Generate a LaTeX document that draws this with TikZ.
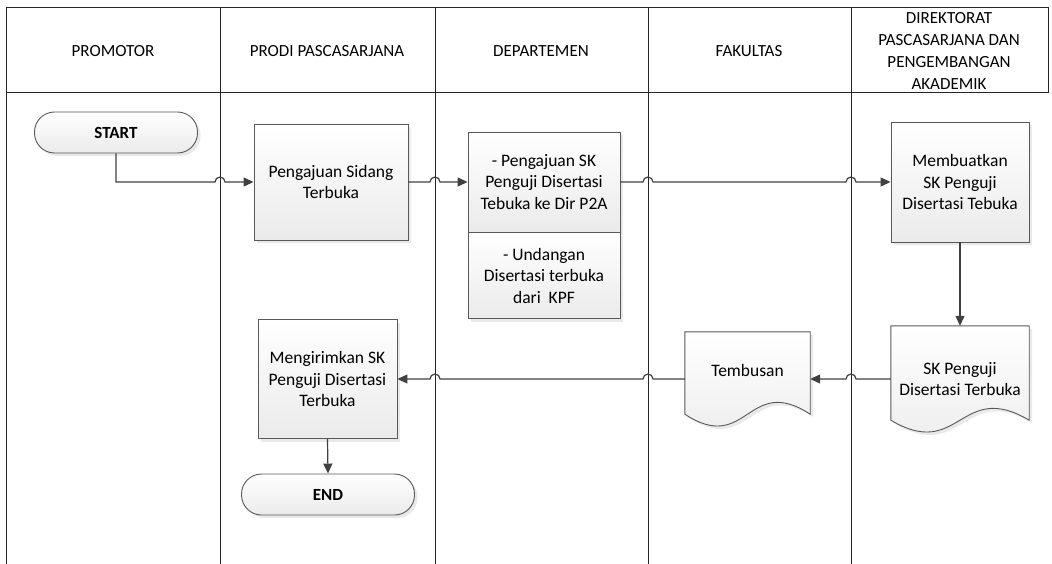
\documentclass[tikz,border=0pt]{standalone}
\usepackage{fontspec}
\setmainfont{Carlito}
\usetikzlibrary{arrows.meta,shadows,positioning,backgrounds}

\begin{document}
\begin{tikzpicture}[x=1pt,y=-1pt,
    lane/.style={draw=black!85,line width=1pt},
    head/.style={align=center,font=\fontsize{17}{22}\selectfont},
    fillbox/.style={draw=black!65,line width=0.9pt,top color=white,bottom color=gray!16,
        drop shadow={shadow xshift=3pt,shadow yshift=-3pt,opacity=0.35,fill=gray!50}},
    box/.style={fillbox,rectangle,align=center,inner sep=2pt,font=\fontsize{17.5}{21.5}\selectfont},
    term/.style={box,rounded corners=20pt,font=\bfseries\fontsize{17}{20}\selectfont},
    doc/.style={rectangle,align=center,inner sep=2pt,font=\fontsize{17.5}{21.5}\selectfont},
    flow/.style={draw=black!75,line width=1.2pt,-{Triangle[length=10pt,width=9pt]}}]
    \useasboundingbox (0,0) rectangle (1052,564);

    % lanes
    \draw[lane] (6,8) rectangle (1048,93);
    \foreach \x [count=\i] in {6,220,435,648,851}{
        \draw[lane] (\x,8) -- (\x,564);
        \coordinate (l\i) at (\x,93);
    }
    \foreach \x/\t in {113/PROMOTOR,327/PRODI PASCASARJANA,541/DEPARTEMEN,749/FAKULTAS,
        949/{DIREKTORAT\\PASCASARJANA DAN\\PENGEMBANGAN\\AKADEMIK}}
        \node[head] (h\x) at (\x,51) {\t};

    % steps
    \node[term,minimum width=163pt,minimum height=41pt] (start) at (116,132.5) {START};
    \node[box,minimum width=154pt,minimum height=116pt] (sidang) at (331,182) {Pengajuan Sidang\\Terbuka};
    \node[box,minimum width=152pt,minimum height=100pt] (ajuansk) at (544,182) {- Pengajuan SK\\Penguji Disertasi\\Tebuka ke Dir P2A};
    \node[box,minimum width=152pt,minimum height=86pt,below=0pt of ajuansk] (undangan) {- Undangan\\Disertasi terbuka\\dari~ KPF};
    \node[box,minimum width=138pt,minimum height=120pt] (buatsk) at (960,182) {Membuatkan\\SK Penguji\\Disertasi Tebuka};
    \node[doc,minimum width=138pt,minimum height=106pt] (skdoc) at (960,379) {SK Penguji\\Disertasi Terbuka};
    \node[doc,minimum width=125pt,minimum height=94pt,text depth=18pt] (tembusan) at (747.5,379) {Tembusan};
    \node[box,minimum width=139pt,minimum height=119pt] (kirimsk) at (327.5,379) {Mengirimkan SK\\Penguji Disertasi\\Terbuka};
    \node[term,minimum width=173pt,minimum height=41pt] (stop) at (328,494.5) {END};

    \begin{scope}[on background layer]
        \foreach \d in {skdoc,tembusan}
            \path[fillbox] (\d.north west) -- (\d.north east) -- ([yshift=12pt]\d.south east)
                .. controls ([yshift=53pt]\d.south) and ([yshift=-29pt]\d.south) .. ([yshift=12pt]\d.south west) -- cycle;
    \end{scope}

    % flow
    \draw[flow] (start.south) |- ([xshift=-5pt]l2 |- sidang.west) arc[start angle=180,end angle=0,radius=5pt] -- (sidang.west);
    \draw[flow] (sidang.east) -- ([xshift=-5pt]l3 |- sidang.east) arc[start angle=180,end angle=0,radius=5pt] -- (ajuansk.west);
    \draw[flow] (ajuansk.east) -- ([xshift=-5pt]l4 |- ajuansk.east) arc[start angle=180,end angle=0,radius=5pt]
        -- ([xshift=-5pt]l5 |- ajuansk.east) arc[start angle=180,end angle=0,radius=5pt] -- (buatsk.west);
    \draw[flow] (buatsk.south) -- (skdoc.north);
    \draw[flow] (skdoc.west) -- ([xshift=5pt]l5 |- skdoc.west) arc[start angle=0,end angle=180,radius=5pt] -- (tembusan.east);
    \draw[flow] (tembusan.west) -- ([xshift=5pt]l4 |- tembusan.west) arc[start angle=0,end angle=180,radius=5pt]
        -- ([xshift=5pt]l3 |- tembusan.west) arc[start angle=0,end angle=180,radius=5pt] -- (kirimsk.east);
    \draw[flow] (kirimsk.south) -- (stop.north);
\end{tikzpicture}
\end{document}
